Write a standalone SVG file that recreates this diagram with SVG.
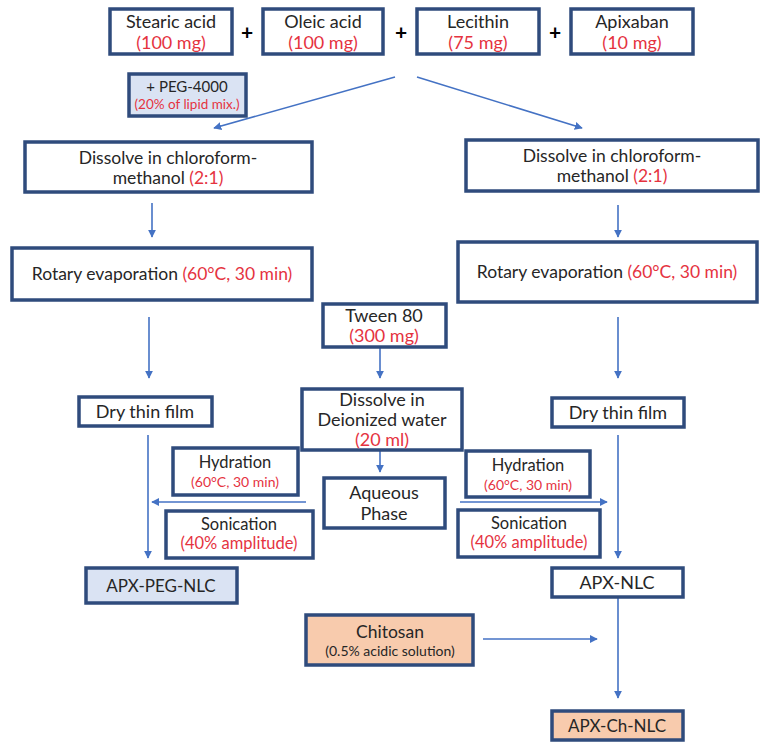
<svg xmlns="http://www.w3.org/2000/svg" width="764" height="747" viewBox="0 0 764 747">
<defs>
<marker id="ah" viewBox="0 0 10 10" refX="9" refY="5" markerWidth="8" markerHeight="8" markerUnits="userSpaceOnUse" orient="auto">
<path d="M0,0 L10,5 L0,10 z" fill="#4472C4"/>
</marker>
<style>
.b{fill:#fff;stroke:#2F4B7C;stroke-width:3.5}
.blue{fill:#DAE3F3;stroke:#2F4B7C;stroke-width:3.5}
.peach{fill:#F8CBAD;stroke:#2F4B7C;stroke-width:3.5}
text{font-family:Lato,"Liberation Sans",sans-serif;font-size:18px;fill:#262626;text-anchor:middle}
.r{fill:#E5333F}
.m{font-size:17.5px}
.h{font-size:16.5px}
.hs{font-size:14px}
.plus{font-size:21px;font-weight:bold;fill:#000}
.c{stroke:#4472C4;stroke-width:1.6;fill:none;marker-end:url(#ah)}
</style>
</defs>
<rect width="764" height="747" fill="#fff"/>
<g id="connectors">
<path class="c" d="M395,77 L214,128"/>
<path class="c" d="M417,77 L582,128"/>
<path class="c" d="M152,203 V237"/>
<path class="c" d="M618,205 V237"/>
<path class="c" d="M149,317 V378"/>
<path class="c" d="M618,317 V378"/>
<path class="c" d="M380,347 V378"/>
<path class="c" d="M380,450 V472"/>
<path class="c" d="M148,435 V558"/>
<path class="c" d="M618,435 V558"/>
<path class="c" d="M306,502 H152"/>
<path class="c" d="M460,502 H607"/>
<path class="c" d="M618,597 V698"/>
<path class="c" d="M483,639 H597"/>
</g>
<g id="stearic"><rect class="b" x="110" y="9" width="122" height="45"/><text x="171" y="28">Stearic acid</text><text class="r" x="171" y="49">(100 mg)</text></g>
<g id="oleic"><rect class="b" x="263" y="9" width="120" height="45"/><text x="323" y="28">Oleic acid</text><text class="r" x="323" y="49">(100 mg)</text></g>
<g id="lecithin"><rect class="b" x="417" y="9" width="122" height="45"/><text x="478" y="28">Lecithin</text><text class="r" x="478" y="49">(75 mg)</text></g>
<g id="apixaban"><rect class="b" x="571" y="9" width="122" height="45"/><text x="632" y="28">Apixaban</text><text class="r" x="632" y="49">(10 mg)</text></g>
<g id="plus"><text class="plus" x="247" y="40">+</text><text class="plus" x="401" y="40">+</text><text class="plus" x="555" y="40">+</text></g>
<g id="peg"><rect class="blue" x="129" y="74" width="117" height="42"/><text x="187" y="92" style="font-size:15px">+ PEG-4000</text><text class="r" x="187" y="109" style="font-size:13.5px">(20% of lipid mix.)</text></g>
<g id="dissolve-left"><rect class="b" x="25" y="142" width="287" height="50"/><text class="m" x="168" y="164">Dissolve in chloroform-</text><text class="m" x="168" y="184">methanol <tspan class="r">(2:1)</tspan></text></g>
<g id="dissolve-right"><rect class="b" x="466" y="140" width="292" height="51"/><text class="m" x="612" y="162">Dissolve in chloroform-</text><text class="m" x="612" y="182">methanol <tspan class="r">(2:1)</tspan></text></g>
<g id="rotary-left"><rect class="b" x="12" y="248" width="300" height="52"/><text class="m" x="162" y="280">Rotary evaporation <tspan class="r">(60°C, 30 min)</tspan></text></g>
<g id="rotary-right"><rect class="b" x="458" y="242" width="299" height="60"/><text class="m" x="607" y="278">Rotary evaporation <tspan class="r">(60°C, 30 min)</tspan></text></g>
<g id="tween"><rect class="b" x="323" y="304" width="123" height="43"/><text x="384" y="322">Tween 80</text><text class="r" x="384" y="342">(300 mg)</text></g>
<g id="deionized"><rect class="b" x="302" y="389" width="160" height="61"/><text x="382" y="406">Dissolve in</text><text x="382" y="426">Deionized water</text><text class="r" x="382" y="446">(20 ml)</text></g>
<g id="aqueous"><rect class="b" x="324" y="478" width="121" height="50"/><text x="384" y="499">Aqueous</text><text x="384" y="520">Phase</text></g>
<g id="dry-left"><rect class="b" x="79" y="397" width="133" height="29"/><text x="145" y="418">Dry thin film</text></g>
<g id="dry-right"><rect class="b" x="552" y="398" width="132" height="29"/><text x="618" y="419">Dry thin film</text></g>
<g id="hydration-left"><rect class="b" x="173" y="448" width="125" height="47"/><text class="h" x="235" y="468">Hydration</text><text class="r hs" x="235" y="487">(60°C, 30 min)</text></g>
<g id="sonication-left"><rect class="b" x="166" y="511" width="147" height="47"/><text class="h" x="239" y="530">Sonication</text><text class="r h" x="239" y="549">(40% amplitude)</text></g>
<g id="hydration-right"><rect class="b" x="466" y="451" width="124" height="46"/><text class="h" x="528" y="471">Hydration</text><text class="r hs" x="528" y="490">(60°C, 30 min)</text></g>
<g id="sonication-right"><rect class="b" x="458" y="510" width="142" height="47"/><text class="h" x="529" y="529">Sonication</text><text class="r h" x="529" y="548">(40% amplitude)</text></g>
<g id="apx-peg-nlc"><rect class="blue" x="86" y="568" width="151" height="35"/><text x="161" y="592" style="font-size:17px">APX-PEG-NLC</text></g>
<g id="apx-nlc"><rect class="b" x="552" y="568" width="131" height="29"/><text x="617" y="589">APX-NLC</text></g>
<g id="chitosan"><rect class="peach" x="306" y="615" width="167" height="50"/><text class="m" x="390" y="638">Chitosan</text><text class="hs" x="390" y="656">(0.5% acidic solution)</text></g>
<g id="apx-ch-nlc"><rect class="peach" x="552" y="711" width="131" height="29"/><text x="617" y="732" style="font-size:17px">APX-Ch-NLC</text></g>
</svg>
